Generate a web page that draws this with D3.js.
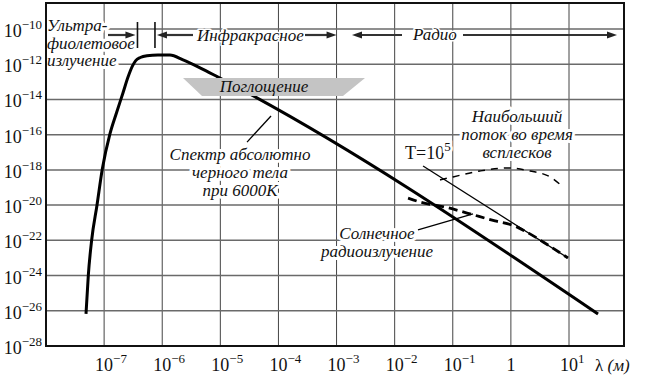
<!DOCTYPE html>
<html><head><meta charset="utf-8">
<script src="https://cdn.jsdelivr.net/npm/d3@7"></script>
<style>body{margin:0;background:#fff} svg{display:block}</style>
</head><body>
<svg id="c" width="655" height="380"></svg>
<script>
// ---- data ----
const xTicks = [1e-7, 1e-6, 1e-5, 1e-4, 1e-3, 1e-2, 1e-1, 1, 10];
const xTickBase = ["10","10","10","10","10","10","10","1","10"];
const xTickExp  = ["−7","−6","−5","−4","−3","−2","−1","","1"];
const yTicks = [1e-10, 1e-12, 1e-14, 1e-16, 1e-18, 1e-20, 1e-22, 1e-24, 1e-26, 1e-28];
const yTickExp = ["−10","−12","−14","−16","−18","−20","−22","−24","−26","−28"];

// black body spectrum at 6000K
const bbLambda = [4.88e-8, 5.35e-8, 6.11e-8, 7.55e-8, 9.31e-8, 1.26e-7, 1.63e-7, 2.11e-7, 2.58e-7, 3.05e-7, 3.5e-7, 4.2e-7, 5.47e-7, 8.45e-7, 1.36e-6, 2.28e-6, 4.47e-6, 9.12e-6, 31.6];
const bbFlux   = [6.6e-27, 1.07e-24, 1.05e-22, 1.02e-20, 1.12e-18, 1.10e-16, 1.70e-15, 2.34e-14, 1.86e-13, 7.5e-13, 1.6e-12, 2.4e-12, 3.0e-12, 3.3e-12, 3.3e-12, 1.74e-12, 6.2e-13, 1.86e-13, 6.6e-27];
// T = 10^5 line
const tLambda = [0.0308, 9.6];
const tFlux   = [1.66e-18, 1.0e-23];
// solar radio emission (thick dashed)
const solarLambda = [0.0170, 0.0273, 0.0735, 0.176, 0.533, 1.18, 1.89, 4.35, 9.6];
const solarFlux   = [2.5e-20, 1.5e-20, 7.8e-21, 3.55e-21, 1.26e-21, 6.4e-22, 2.9e-22, 5.4e-23, 1.0e-23];
// max flux during bursts (thin dashed)
const burstLambda = [0.0603, 0.101, 0.294, 0.857, 2.13, 4.71, 7.59];
const burstFlux   = [2.7e-19, 4.0e-19, 8.7e-19, 1.29e-18, 8.7e-19, 4.0e-19, 1.2e-19];
// absorption band (trapezoid) corners
const absLambda = [2.28e-6, 3.09e-3, 1.29e-3, 4.84e-6];
const absFlux   = [1.66e-13, 1.66e-13, 1.58e-14, 1.58e-14];
// pointers
const bbPointerLambda = [2.88e-5, 7.45e-5];
const bbPointerFlux   = [3.8e-17, 1.15e-15];
const solarPointerLambda = [0.0252, 0.223];
const solarPointerFlux   = [3.9e-22, 3.2e-21];
// band boundaries (visible light)
const visBounds = [3.75e-7, 7.5e-7];

// ---- chart ----
const svg = d3.select("#c");
const serif = "Liberation Serif, DejaVu Serif, serif";
const L = 46, R = 624, T = 3, B = 346;
const x = d3.scaleLog().domain([1e-8, 10]).range([46, 569]);
const y = d3.scaleLog().domain([1e-28, 1e-10]).range([346, 29]);

svg.append("rect").attr("width",655).attr("height",380).attr("fill","#fff");

// grid
const grid = svg.append("g");
grid.selectAll("line.v").data(xTicks).join("line")
  .attr("x1", d=>x(d)).attr("x2", d=>x(d)).attr("y1", T).attr("y2", B)
  .attr("stroke","#444").attr("stroke-width",1);
grid.selectAll("line.h").data(yTicks.slice(0,-1)).join("line")
  .attr("x1", L).attr("x2", R).attr("y1", d=>y(d)).attr("y2", d=>y(d))
  .attr("stroke","#6a6a6a").attr("stroke-width",1.5);

// text helper with white halo
function label(g, lines, xx, y0, lh, opt={}) {
  lines.forEach((s,i)=>{
    g.append("text").attr("x", xx).attr("y", y0 + i*lh)
      .attr("text-anchor", opt.anchor || "start")
      .style("font-family", serif).attr("font-size", opt.size || 17)
      .style("font-style", opt.italic === false ? "normal" : "italic")
      .attr("fill","#111")
      .attr("stroke","#fff").attr("stroke-width", opt.halo || 6)
      .attr("stroke-linejoin","round").attr("paint-order","stroke")
      .text(s);
  });
}
const ann = svg.append("g");
label(ann, ["Ультра-", "фиолетовое", "излучение"], 47, 31, 17.5);
label(ann, ["Инфракрасное"], 197, 41, 0, {halo: 3});
label(ann, ["Радио"], 413, 40, 0, {halo: 3});
label(ann, ["Спектр абсолютно", "черного тела", "при 6000K"], 240, 160, 18, {anchor:"middle"});
label(ann, ["Наибольший", "поток во время", "всплесков"], 517, 122, 18, {anchor:"middle"});
label(ann, ["Солнечное", "радиоизлучение"], 377, 239, 17.5, {anchor:"middle"});
// T = 10^5
{
  const t = ann.append("text").attr("x",405).attr("y",159).style("font-family",serif).attr("font-size",18)
    .attr("fill","#111").attr("stroke","#fff").attr("stroke-width",5).attr("paint-order","stroke");
  t.append("tspan").text("T=10");
  t.append("tspan").attr("dy",-8).attr("font-size",13).text("5");
}

// band arrows
function arrow(x1, x2, yy) {
  const dir = Math.sign(x2 - x1);
  svg.append("line").attr("x1",x1).attr("x2",x2 - dir*7).attr("y1",yy).attr("y2",yy)
    .attr("stroke","#333").attr("stroke-width",2.2);
  svg.append("path").attr("d", `M${x2},${yy} L${x2-dir*10},${yy-3.5} L${x2-dir*10},${yy+3.5} Z`).attr("fill","#222");
}
const ay = 35;
arrow(108, x(visBounds[0]) - 2, ay);
arrow(193, x(visBounds[1]) + 2, ay);
visBounds.forEach(v=>{
  svg.append("line").attr("x1",x(v)).attr("x2",x(v)).attr("y1",22).attr("y2",48)
    .attr("stroke","#111").attr("stroke-width",1.6);
});
arrow(305, x(1e-3), ay);
arrow(402, 352, ay);
arrow(463, 617, ay);

// curves
const bb = d3.zip(bbLambda, bbFlux);
svg.append("path").attr("d", d3.line().x(d=>x(d[0])).y(d=>y(d[1])).curve(d3.curveMonotoneX)(bb))
  .attr("fill","none").attr("stroke","#000").attr("stroke-width",3).attr("stroke-linejoin","round");
svg.append("path").attr("d", d3.line().x(d=>x(d[0])).y(d=>y(d[1]))(d3.zip(tLambda, tFlux)))
  .attr("fill","none").attr("stroke","#000").attr("stroke-width",1.3);
svg.append("path").attr("d", d3.line().x(d=>x(d[0])).y(d=>y(d[1])).curve(d3.curveMonotoneX)(d3.zip(solarLambda, solarFlux)))
  .attr("fill","none").attr("stroke","#000").attr("stroke-width",2.8).attr("stroke-dasharray","9,5");
svg.append("path").attr("d", d3.line().x(d=>x(d[0])).y(d=>y(d[1])).curve(d3.curveMonotoneX)(d3.zip(burstLambda, burstFlux)))
  .attr("fill","none").attr("stroke","#000").attr("stroke-width",1.5).attr("stroke-dasharray","7,6");

// pointers
[[bbPointerLambda, bbPointerFlux],[solarPointerLambda, solarPointerFlux]].forEach(([a,b])=>{
  svg.append("line").attr("x1",x(a[0])).attr("y1",y(b[0])).attr("x2",x(a[1])).attr("y2",y(b[1]))
    .attr("stroke","#000").attr("stroke-width",1.3);
});

// absorption band
svg.append("polygon").attr("points", d3.zip(absLambda, absFlux).map(d=>x(d[0])+","+y(d[1])).join(" "))
  .attr("fill","#c4c4c4");
svg.append("text").attr("x",264).attr("y",92).attr("text-anchor","middle")
  .style("font-family",serif).style("font-style","italic").attr("font-size",17).attr("fill","#111").text("Поглощение");

// frame
svg.append("rect").attr("x",L).attr("y",T).attr("width",R-L).attr("height",B-T)
  .attr("fill","none").attr("stroke","#111").attr("stroke-width",2);

// y tick labels
yTicks.forEach((v,i)=>{
  const t = svg.append("text").attr("x",42).attr("y",y(v)+8).attr("text-anchor","end")
    .style("font-family",serif).attr("font-size",18).attr("fill","#111");
  t.append("tspan").text("10");
  t.append("tspan").attr("dy",-8).attr("font-size",13).text(yTickExp[i]);
});
// x tick labels
xTicks.forEach((v,i)=>{
  const t = svg.append("text").attr("y",371).style("font-family",serif).attr("font-size",18).attr("fill","#111");
  if (xTickExp[i] === "") {
    t.attr("x", x(v)).attr("text-anchor","middle").text(xTickBase[i]);
  } else {
    t.attr("x", x(v) - 9);
    t.append("tspan").text(xTickBase[i]);
    t.append("tspan").attr("dy",-8).attr("font-size",13).text(xTickExp[i]);
  }
});
{
  const t = svg.append("text").attr("x",595).attr("y",371).style("font-family",serif).attr("font-size",17).attr("fill","#111");
  t.append("tspan").text("λ ");
  t.append("tspan").style("font-style","italic").text("(м)");
}
</script>
</body></html>
